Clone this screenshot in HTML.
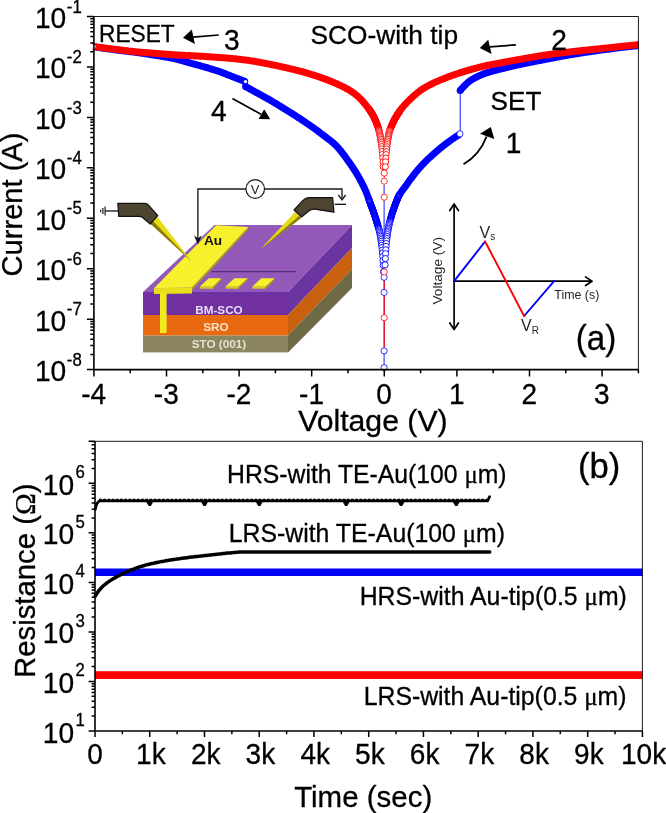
<!DOCTYPE html>
<html lang="en"><head><meta charset="utf-8"><title>I-V characteristics and retention</title>
<style>html,body{margin:0;padding:0;background:#fff}svg{display:block}</style></head>
<body>
<svg width="666" height="813" viewBox="0 0 666 813" font-family='"Liberation Sans", sans-serif'>
<rect width="666" height="813" fill="#fff"/>
<clipPath id="clipA"><rect x="89.9" y="16.5" width="548.9" height="357.1"/></clipPath>
<g id="curvesA" clip-path="url(#clipA)">
<line x1="384.1" y1="185" x2="384.1" y2="369.6" stroke="#0000ff" stroke-width="0.9"/>
<line x1="384.3" y1="272" x2="384.3" y2="347" stroke="#ff0000" stroke-width="1"/>
<line x1="384.3" y1="150" x2="384.3" y2="184" stroke="#ff0000" stroke-width="0.9"/>
<polyline points="93.9,46.8 94.6,46.9 95.4,47.0 96.1,47.1 96.8,47.2 97.5,47.3 98.3,47.4 99.0,47.5 99.7,47.7 100.4,47.8 101.2,47.9 101.9,48.0 102.6,48.1 103.3,48.2 104.1,48.3 104.8,48.4 105.5,48.5 106.2,48.6 107.0,48.7 107.7,48.8 108.4,48.9 109.1,49.0 109.9,49.1 110.6,49.2 111.3,49.3 112.0,49.4 112.8,49.5 113.5,49.6 114.2,49.7 115.0,49.8 115.7,49.9 116.4,50.0 117.1,50.1 117.9,50.2 118.6,50.3 119.3,50.3 120.0,50.4 120.8,50.5 121.5,50.6 122.2,50.7 122.9,50.8 123.7,50.9 124.4,51.0 125.1,51.0 125.8,51.1 126.6,51.2 127.3,51.3 128.0,51.4 128.7,51.5 129.5,51.6 130.2,51.7 130.9,51.7 131.7,51.8 132.4,51.9 133.1,52.0 133.8,52.1 134.6,52.2 135.3,52.3 136.0,52.4 136.7,52.5 137.5,52.6 138.2,52.7 138.9,52.8 139.6,52.9 140.4,53.0 141.1,53.1 141.8,53.2 142.5,53.3 143.3,53.4 144.0,53.5 144.7,53.7 145.4,53.8 146.2,53.9 146.9,54.0 147.6,54.1 148.3,54.2 149.1,54.3 149.8,54.4 150.5,54.6 151.3,54.7 152.0,54.8 152.7,54.9 153.4,55.0 154.2,55.1 154.9,55.3 155.6,55.4 156.3,55.5 157.1,55.6 157.8,55.7 158.5,55.8 159.2,56.0 160.0,56.1 160.7,56.2 161.4,56.3 162.1,56.4 162.9,56.6 163.6,56.7 164.3,56.8 165.0,56.9 165.8,57.0 166.5,57.2 167.2,57.3 168.0,57.4 168.7,57.5 169.4,57.7 170.1,57.8 170.9,58.0 171.6,58.1 172.3,58.2 173.0,58.4 173.8,58.5 174.5,58.7 175.2,58.8 175.9,59.0 176.7,59.2 177.4,59.4 178.1,59.6 178.8,59.7 179.6,59.9 180.3,60.2 181.0,60.4 181.7,60.6 182.5,60.8 183.2,61.0 183.9,61.2 184.6,61.4 185.4,61.7 186.1,61.9 186.8,62.1 187.6,62.3 188.3,62.5 189.0,62.7 189.7,62.9 190.5,63.1 191.2,63.3 191.9,63.5 192.6,63.7 193.4,63.9 194.1,64.1 194.8,64.3 195.5,64.5 196.3,64.7 197.0,64.9 197.7,65.0 198.4,65.2 199.2,65.4 199.9,65.6 200.6,65.9 201.3,66.1 202.1,66.3 202.8,66.5 203.5,66.7 204.3,66.9 205.0,67.1 205.7,67.3 206.4,67.5 207.2,67.7 207.9,68.0 208.6,68.2 209.3,68.4 210.1,68.6 210.8,68.8 211.5,69.1 212.2,69.3 213.0,69.5 213.7,69.7 214.4,70.0 215.1,70.2 215.9,70.4 216.6,70.7 217.3,70.9 218.0,71.1 218.8,71.4 219.5,71.6 220.2,71.9 220.9,72.1 221.7,72.4 222.4,72.7 223.1,73.0 223.9,73.2 224.6,73.5 225.3,73.8 226.0,74.1 226.8,74.4 227.5,74.7 228.2,75.0 228.9,75.2 229.7,75.5 230.4,75.8 231.1,76.1 231.8,76.4 232.6,76.7 233.3,76.9 234.0,77.2 234.7,77.5 235.5,77.8 236.2,78.1 236.9,78.3 237.6,78.6 238.4,78.9 239.1,79.2 239.8,79.5 240.6,79.7 241.3,80.0 242.0,80.3 242.7,80.6 243.5,80.9 244.2,81.1" fill="none" stroke="#0000ff" stroke-width="7.0" stroke-linejoin="round" stroke-linecap="butt"/>
<polyline points="244.9,86.1 245.6,86.5 246.4,87.0 247.1,87.4 247.8,87.8 248.5,88.2 249.3,88.6 250.0,89.0 250.7,89.4 251.4,89.8 252.2,90.2 252.9,90.6 253.6,91.0 254.3,91.4 255.1,91.8 255.8,92.2 256.5,92.6 257.2,93.0 258.0,93.4 258.7,93.8 259.4,94.2 260.2,94.6 260.9,95.0 261.6,95.4 262.3,95.8 263.1,96.2 263.8,96.6 264.5,97.0 265.2,97.4 266.0,97.8 266.7,98.2 267.4,98.6 268.1,99.0 268.9,99.4 269.6,99.8 270.3,100.3 271.0,100.7 271.8,101.1 272.5,101.5 273.2,102.0 273.9,102.4 274.7,102.8 275.4,103.3 276.1,103.7 276.9,104.1 277.6,104.6 278.3,105.0 279.0,105.5 279.8,105.9 280.5,106.4 281.2,106.8 281.9,107.3 282.7,107.7 283.4,108.2 284.1,108.6 284.8,109.1 285.6,109.5 286.3,110.0 287.0,110.4 287.7,110.9 288.5,111.3 289.2,111.8 289.9,112.2 290.6,112.7 291.4,113.1 292.1,113.6 292.8,114.0 293.6,114.5 294.3,115.0 295.0,115.4 295.7,115.9 296.5,116.4 297.2,116.8 297.9,117.3 298.6,117.8 299.4,118.2 300.1,118.7 300.8,119.2 301.5,119.7 302.3,120.2 303.0,120.6 303.7,121.1 304.4,121.6 305.2,122.1 305.9,122.6 306.6,123.1 307.3,123.6 308.1,124.1 308.8,124.6 309.5,125.1 310.2,125.6 311.0,126.1 311.7,126.6 312.4,127.1 313.2,127.6 313.9,128.1 314.6,128.6 315.3,129.2 316.1,129.7 316.8,130.2 317.5,130.8 318.2,131.3 319.0,131.9 319.7,132.5 320.4,133.0 321.1,133.6 321.9,134.1 322.6,134.7 323.3,135.2 324.0,135.8 324.8,136.3 325.5,136.9 326.2,137.4 326.9,138.0 327.7,138.5 328.4,139.1 329.1,139.6 329.9,140.2 330.6,140.7 331.3,141.3 332.0,141.9 332.8,142.5 333.5,143.2 334.2,143.8 334.9,144.5 335.7,145.2 336.4,146.0 337.1,146.7 337.8,147.5 338.6,148.3 339.3,149.2 340.0,150.0 340.7,150.9 341.5,151.8 342.2,152.8 342.9,153.7 343.6,154.7 344.4,155.6 345.1,156.6 345.8,157.6 346.5,158.6 347.3,159.7 348.0,160.7 348.7,161.7 349.5,162.7 350.2,163.8 350.9,164.8 351.6,165.8 352.4,166.9 353.1,168.0 353.8,169.1 354.5,170.2 355.3,171.4 356.0,172.5 356.7,173.7 357.4,174.9 358.2,176.1 358.9,177.4 359.6,178.7 360.3,180.0 361.1,181.4 361.8,182.8 362.5,184.2 363.2,185.7 364.0,187.2 364.7,188.8 365.4,190.4 366.2,192.2 366.9,194.0 367.6,195.9 368.3,197.9 369.1,199.9" fill="none" stroke="#0000ff" stroke-width="7.0" stroke-linejoin="round" stroke-linecap="butt"/>
<g fill="none" stroke="#0000ff" stroke-width="0.9"><circle cx="369.05" cy="199.9" r="3.1"/><circle cx="369.31" cy="200.6" r="3.1"/><circle cx="369.56" cy="201.3" r="3.1"/><circle cx="369.82" cy="202.0" r="3.1"/><circle cx="370.07" cy="202.7" r="3.1"/><circle cx="370.32" cy="203.4" r="3.1"/><circle cx="370.58" cy="204.1" r="3.1"/><circle cx="370.83" cy="204.8" r="3.1"/><circle cx="371.09" cy="205.5" r="3.1"/><circle cx="371.34" cy="206.2" r="3.1"/><circle cx="371.60" cy="206.8" r="3.1"/><circle cx="371.85" cy="207.5" r="3.1"/><circle cx="372.10" cy="208.1" r="3.1"/><circle cx="372.36" cy="208.8" r="3.1"/><circle cx="372.61" cy="209.5" r="3.1"/><circle cx="372.87" cy="210.2" r="3.1"/><circle cx="373.12" cy="210.9" r="3.1"/><circle cx="373.37" cy="211.6" r="3.1"/><circle cx="373.63" cy="212.4" r="3.1"/><circle cx="373.88" cy="213.1" r="3.1"/><circle cx="374.14" cy="213.8" r="3.1"/><circle cx="374.39" cy="214.6" r="3.1"/><circle cx="374.64" cy="215.4" r="3.1"/><circle cx="374.90" cy="216.1" r="3.1"/><circle cx="375.15" cy="216.9" r="3.1"/><circle cx="375.41" cy="217.7" r="3.1"/><circle cx="375.66" cy="218.5" r="3.1"/><circle cx="375.91" cy="219.3" r="3.1"/><circle cx="376.17" cy="220.2" r="3.1"/><circle cx="376.42" cy="221.0" r="3.1"/><circle cx="376.68" cy="221.8" r="3.1"/><circle cx="376.93" cy="222.6" r="3.1"/><circle cx="377.19" cy="223.5" r="3.1"/><circle cx="377.44" cy="224.3" r="3.1"/><circle cx="377.69" cy="225.1" r="3.1"/><circle cx="377.95" cy="226.0" r="3.1"/><circle cx="378.20" cy="226.8" r="3.1"/><circle cx="378.46" cy="227.6" r="3.1"/><circle cx="378.71" cy="228.4" r="3.1"/></g><g fill="#fff" stroke="#0000ff" stroke-width="0.9"><circle cx="378.96" cy="229.1" r="3.1"/><circle cx="379.22" cy="230.1" r="3.1"/><circle cx="379.47" cy="231.2" r="3.1"/><circle cx="379.73" cy="232.4" r="3.1"/><circle cx="379.98" cy="233.7" r="3.1"/><circle cx="380.23" cy="235.0" r="3.1"/><circle cx="380.49" cy="236.4" r="3.1"/><circle cx="380.74" cy="237.9" r="3.1"/><circle cx="381.00" cy="239.6" r="3.1"/><circle cx="381.25" cy="241.3" r="3.1"/><circle cx="381.50" cy="243.2" r="3.1"/><circle cx="381.76" cy="245.3" r="3.1"/><circle cx="382.01" cy="247.6" r="3.1"/><circle cx="382.27" cy="250.2" r="3.1"/><circle cx="382.52" cy="253.1" r="3.1"/><circle cx="382.78" cy="256.5" r="3.1"/><circle cx="383.03" cy="260.5" r="3.1"/><circle cx="383.28" cy="265.4" r="3.1"/><circle cx="383.54" cy="271.7" r="3.1"/></g>
<g fill="none" stroke="#0000ff" stroke-width="0.9"><circle cx="399.55" cy="194.6" r="3.1"/><circle cx="399.29" cy="195.1" r="3.1"/><circle cx="399.04" cy="195.5" r="3.1"/><circle cx="398.78" cy="196.0" r="3.1"/><circle cx="398.53" cy="196.6" r="3.1"/><circle cx="398.28" cy="197.1" r="3.1"/><circle cx="398.02" cy="197.6" r="3.1"/><circle cx="397.77" cy="198.2" r="3.1"/><circle cx="397.51" cy="198.8" r="3.1"/><circle cx="397.26" cy="199.4" r="3.1"/><circle cx="397.00" cy="200.0" r="3.1"/><circle cx="396.75" cy="200.6" r="3.1"/><circle cx="396.50" cy="201.3" r="3.1"/><circle cx="396.24" cy="201.9" r="3.1"/><circle cx="395.99" cy="202.6" r="3.1"/><circle cx="395.73" cy="203.2" r="3.1"/><circle cx="395.48" cy="203.9" r="3.1"/><circle cx="395.23" cy="204.6" r="3.1"/><circle cx="394.97" cy="205.3" r="3.1"/><circle cx="394.72" cy="206.0" r="3.1"/><circle cx="394.46" cy="206.7" r="3.1"/><circle cx="394.21" cy="207.5" r="3.1"/><circle cx="393.96" cy="208.2" r="3.1"/><circle cx="393.70" cy="208.9" r="3.1"/><circle cx="393.45" cy="209.6" r="3.1"/><circle cx="393.19" cy="210.3" r="3.1"/><circle cx="392.94" cy="211.1" r="3.1"/><circle cx="392.69" cy="211.8" r="3.1"/><circle cx="392.43" cy="212.6" r="3.1"/><circle cx="392.18" cy="213.4" r="3.1"/><circle cx="391.92" cy="214.2" r="3.1"/><circle cx="391.67" cy="215.0" r="3.1"/><circle cx="391.41" cy="215.9" r="3.1"/><circle cx="391.16" cy="216.8" r="3.1"/><circle cx="390.91" cy="217.6" r="3.1"/><circle cx="390.65" cy="218.5" r="3.1"/><circle cx="390.40" cy="219.5" r="3.1"/><circle cx="390.14" cy="220.4" r="3.1"/><circle cx="389.89" cy="221.4" r="3.1"/></g><g fill="#fff" stroke="#0000ff" stroke-width="0.9"><circle cx="389.64" cy="222.4" r="3.1"/><circle cx="389.38" cy="223.4" r="3.1"/><circle cx="389.13" cy="224.5" r="3.1"/><circle cx="388.87" cy="225.7" r="3.1"/><circle cx="388.62" cy="226.9" r="3.1"/><circle cx="388.37" cy="228.3" r="3.1"/><circle cx="388.11" cy="229.7" r="3.1"/><circle cx="387.86" cy="231.2" r="3.1"/><circle cx="387.60" cy="232.8" r="3.1"/><circle cx="387.35" cy="234.6" r="3.1"/><circle cx="387.10" cy="236.5" r="3.1"/><circle cx="386.84" cy="238.6" r="3.1"/><circle cx="386.59" cy="240.9" r="3.1"/><circle cx="386.33" cy="243.5" r="3.1"/><circle cx="386.08" cy="246.4" r="3.1"/><circle cx="385.82" cy="249.8" r="3.1"/><circle cx="385.57" cy="253.7" r="3.1"/><circle cx="385.32" cy="258.6" r="3.1"/><circle cx="385.06" cy="264.9" r="3.1"/></g>
<polyline points="399.5,194.6 400.3,193.4 401.0,192.3 401.7,191.3 402.4,190.3 403.2,189.4 403.9,188.5 404.6,187.5 405.4,186.4 406.1,185.4 406.8,184.4 407.5,183.4 408.3,182.3 409.0,181.3 409.7,180.3 410.4,179.3 411.2,178.4 411.9,177.4 412.6,176.4 413.3,175.5 414.1,174.5 414.8,173.6 415.5,172.7 416.2,171.8 417.0,170.9 417.7,170.1 418.4,169.2 419.1,168.4 419.9,167.5 420.6,166.7 421.3,165.9 422.1,165.1 422.8,164.3 423.5,163.6 424.2,162.8 425.0,162.1 425.7,161.4 426.4,160.6 427.1,159.9 427.9,159.2 428.6,158.6 429.3,157.9 430.0,157.2 430.8,156.6 431.5,155.9 432.2,155.2 432.9,154.6 433.7,153.9 434.4,153.3 435.1,152.7 435.8,152.0 436.6,151.4 437.3,150.8 438.0,150.1 438.8,149.5 439.5,148.9 440.2,148.3 440.9,147.7 441.7,147.1 442.4,146.5 443.1,146.0 443.8,145.4 444.6,144.8 445.3,144.3 446.0,143.7 446.7,143.2 447.5,142.7 448.2,142.1 448.9,141.6 449.6,141.1 450.4,140.5 451.1,140.0 451.8,139.5 452.5,139.0 453.3,138.5 454.0,138.0 454.7,137.5 455.4,137.0 456.2,136.5 456.9,136.0 457.6,135.5 458.4,135.1 459.1,134.6 459.8,134.1" fill="none" stroke="#0000ff" stroke-width="7.0" stroke-linejoin="round" stroke-linecap="butt"/>
<line x1="460.2" y1="90" x2="460.2" y2="134" stroke="#0000ff" stroke-width="0.9"/>
<circle cx="459.9" cy="133.8" r="3.1" fill="#fff" stroke="#0000ff" stroke-width="0.8"/>
<polyline points="460.2,90.2 460.9,89.6 461.6,88.8 462.3,88.0 463.1,87.2 463.8,86.4 464.5,85.7 465.2,85.0 466.0,84.3 466.7,83.6 467.4,82.9 468.2,82.3 468.9,81.6 469.6,81.1 470.3,80.6 471.1,80.1 471.8,79.6 472.5,79.2 473.2,78.8 474.0,78.4 474.7,78.0 475.4,77.6 476.1,77.2 476.9,76.9 477.6,76.5 478.3,76.2 479.0,75.8 479.8,75.5 480.5,75.2 481.2,74.9 481.9,74.6 482.7,74.3 483.4,74.0 484.1,73.7 484.9,73.5 485.6,73.2 486.3,73.0 487.0,72.7 487.8,72.5 488.5,72.3 489.2,72.1 489.9,71.8 490.7,71.6 491.4,71.4 492.1,71.2 492.8,71.0 493.6,70.9 494.3,70.7 495.0,70.5 495.7,70.3 496.5,70.1 497.2,69.9 497.9,69.7 498.6,69.5 499.4,69.4 500.1,69.2 500.8,69.0 501.5,68.8 502.3,68.6 503.0,68.4 503.7,68.3 504.5,68.1 505.2,67.9 505.9,67.7 506.6,67.5 507.4,67.4 508.1,67.2 508.8,67.0 509.5,66.9 510.3,66.7 511.0,66.5 511.7,66.4 512.4,66.2 513.2,66.0 513.9,65.9 514.6,65.7 515.3,65.5 516.1,65.4 516.8,65.2 517.5,65.0 518.2,64.9 519.0,64.7 519.7,64.6 520.4,64.4 521.2,64.2 521.9,64.1 522.6,63.9 523.3,63.8 524.1,63.6 524.8,63.5 525.5,63.3 526.2,63.2 527.0,63.0 527.7,62.9 528.4,62.7 529.1,62.6 529.9,62.4 530.6,62.3 531.3,62.1 532.0,62.0 532.8,61.8 533.5,61.7 534.2,61.6 534.9,61.4 535.7,61.3 536.4,61.1 537.1,61.0 537.8,60.9 538.6,60.7 539.3,60.6 540.0,60.5 540.8,60.3 541.5,60.2 542.2,60.0 542.9,59.9 543.7,59.8 544.4,59.6 545.1,59.5 545.8,59.3 546.6,59.2 547.3,59.1 548.0,58.9 548.7,58.8 549.5,58.6 550.2,58.5 550.9,58.3 551.6,58.2 552.4,58.1 553.1,57.9 553.8,57.8 554.5,57.6 555.3,57.5 556.0,57.4 556.7,57.2 557.5,57.1 558.2,56.9 558.9,56.8 559.6,56.7 560.4,56.5 561.1,56.4 561.8,56.3 562.5,56.1 563.3,56.0 564.0,55.9 564.7,55.8 565.4,55.6 566.2,55.5 566.9,55.4 567.6,55.2 568.3,55.1 569.1,55.0 569.8,54.9 570.5,54.7 571.2,54.6 572.0,54.5 572.7,54.4 573.4,54.3 574.1,54.1 574.9,54.0 575.6,53.9 576.3,53.8 577.1,53.7 577.8,53.6 578.5,53.4 579.2,53.3 580.0,53.2 580.7,53.1 581.4,53.0 582.1,52.9 582.9,52.8 583.6,52.7 584.3,52.5 585.0,52.4 585.8,52.3 586.5,52.2 587.2,52.1 587.9,52.0 588.7,51.9 589.4,51.8 590.1,51.7 590.8,51.6 591.6,51.5 592.3,51.4 593.0,51.3 593.8,51.2 594.5,51.1 595.2,51.0 595.9,50.8 596.7,50.7 597.4,50.6 598.1,50.5 598.8,50.4 599.6,50.3 600.3,50.2 601.0,50.1 601.7,50.0 602.5,49.9 603.2,49.8 603.9,49.7 604.6,49.6 605.4,49.6 606.1,49.5 606.8,49.4 607.5,49.3 608.3,49.2 609.0,49.1 609.7,49.0 610.4,48.9 611.2,48.8 611.9,48.7 612.6,48.6 613.4,48.5 614.1,48.4 614.8,48.3 615.5,48.2 616.3,48.1 617.0,48.0 617.7,47.9 618.4,47.8 619.2,47.7 619.9,47.6 620.6,47.5 621.3,47.5 622.1,47.4 622.8,47.3 623.5,47.2 624.2,47.1 625.0,47.0 625.7,46.9 626.4,46.9 627.1,46.8 627.9,46.7 628.6,46.6 629.3,46.5 630.1,46.5 630.8,46.4 631.5,46.3 632.2,46.2 633.0,46.1 633.7,46.1 634.4,46.0 635.1,45.9 635.9,45.9 636.6,45.8 637.3,45.7 638.0,45.6 638.8,45.6 639.5,45.6" fill="none" stroke="#0000ff" stroke-width="7.0" stroke-linejoin="round" stroke-linecap="butt"/>
<circle cx="244.6" cy="81.3" r="3.5" fill="#0000ff"/><circle cx="245.6" cy="86.6" r="3.5" fill="#0000ff"/><circle cx="245.5" cy="81.6" r="1.7" fill="#fff"/>
<circle cx="460.2" cy="90.6" r="3.5" fill="#0000ff"/>
<circle cx="384.1" cy="277.3" r="3.1" fill="#fff" stroke="#0000ff" stroke-width="0.8"/>
<circle cx="384.1" cy="292.4" r="3.1" fill="#fff" stroke="#0000ff" stroke-width="0.8"/>
<circle cx="384.1" cy="350.9" r="3.1" fill="#fff" stroke="#0000ff" stroke-width="0.8"/>
<circle cx="384.1" cy="367.7" r="3.1" fill="#fff" stroke="#0000ff" stroke-width="0.8"/>
<polyline points="92.4,46.6 93.2,46.6 93.9,46.6 94.6,46.7 95.4,46.8 96.1,46.9 96.8,47.0 97.5,47.1 98.3,47.2 99.0,47.3 99.7,47.4 100.4,47.4 101.2,47.5 101.9,47.6 102.6,47.7 103.3,47.8 104.1,47.9 104.8,48.0 105.5,48.1 106.2,48.2 107.0,48.3 107.7,48.4 108.4,48.5 109.1,48.6 109.9,48.7 110.6,48.8 111.3,48.8 112.0,48.9 112.8,49.0 113.5,49.1 114.2,49.2 115.0,49.3 115.7,49.4 116.4,49.5 117.1,49.6 117.9,49.7 118.6,49.7 119.3,49.8 120.0,49.9 120.8,50.0 121.5,50.1 122.2,50.2 122.9,50.3 123.7,50.4 124.4,50.5 125.1,50.6 125.8,50.7 126.6,50.8 127.3,50.8 128.0,50.9 128.7,51.0 129.5,51.1 130.2,51.2 130.9,51.3 131.7,51.3 132.4,51.4 133.1,51.5 133.8,51.6 134.6,51.7 135.3,51.7 136.0,51.8 136.7,51.9 137.5,51.9 138.2,52.0 138.9,52.1 139.6,52.1 140.4,52.2 141.1,52.3 141.8,52.3 142.5,52.4 143.3,52.4 144.0,52.5 144.7,52.6 145.4,52.6 146.2,52.7 146.9,52.7 147.6,52.8 148.3,52.8 149.1,52.9 149.8,53.0 150.5,53.0 151.3,53.1 152.0,53.1 152.7,53.2 153.4,53.2 154.2,53.3 154.9,53.3 155.6,53.4 156.3,53.4 157.1,53.5 157.8,53.6 158.5,53.6 159.2,53.7 160.0,53.7 160.7,53.8 161.4,53.8 162.1,53.9 162.9,53.9 163.6,54.0 164.3,54.1 165.0,54.1 165.8,54.2 166.5,54.2 167.2,54.3 168.0,54.3 168.7,54.4 169.4,54.4 170.1,54.5 170.9,54.5 171.6,54.6 172.3,54.6 173.0,54.7 173.8,54.7 174.5,54.8 175.2,54.8 175.9,54.9 176.7,54.9 177.4,55.0 178.1,55.0 178.8,55.0 179.6,55.1 180.3,55.1 181.0,55.2 181.7,55.2 182.5,55.3 183.2,55.3 183.9,55.3 184.6,55.4 185.4,55.4 186.1,55.4 186.8,55.5 187.6,55.5 188.3,55.5 189.0,55.6 189.7,55.6 190.5,55.6 191.2,55.7 191.9,55.7 192.6,55.8 193.4,55.8 194.1,55.8 194.8,55.9 195.5,55.9 196.3,55.9 197.0,56.0 197.7,56.0 198.4,56.1 199.2,56.1 199.9,56.2 200.6,56.2 201.3,56.2 202.1,56.3 202.8,56.3 203.5,56.4 204.3,56.4 205.0,56.5 205.7,56.5 206.4,56.6 207.2,56.6 207.9,56.7 208.6,56.7 209.3,56.8 210.1,56.8 210.8,56.9 211.5,56.9 212.2,57.0 213.0,57.1 213.7,57.1 214.4,57.2 215.1,57.2 215.9,57.3 216.6,57.3 217.3,57.4 218.0,57.4 218.8,57.5 219.5,57.5 220.2,57.6 220.9,57.6 221.7,57.7 222.4,57.7 223.1,57.8 223.9,57.8 224.6,57.9 225.3,57.9 226.0,58.0 226.8,58.1 227.5,58.1 228.2,58.2 228.9,58.2 229.7,58.3 230.4,58.4 231.1,58.4 231.8,58.5 232.6,58.6 233.3,58.6 234.0,58.7 234.7,58.8 235.5,58.8 236.2,58.9 236.9,59.0 237.6,59.1 238.4,59.2 239.1,59.2 239.8,59.3 240.6,59.4 241.3,59.5 242.0,59.6 242.7,59.7 243.5,59.8 244.2,59.9 244.9,60.0 245.6,60.0 246.4,60.1 247.1,60.2 247.8,60.3 248.5,60.4 249.3,60.5 250.0,60.7 250.7,60.8 251.4,60.9 252.2,61.0 252.9,61.1 253.6,61.2 254.3,61.3 255.1,61.4 255.8,61.6 256.5,61.7 257.2,61.8 258.0,62.0 258.7,62.1 259.4,62.2 260.2,62.4 260.9,62.5 261.6,62.6 262.3,62.8 263.1,62.9 263.8,63.1 264.5,63.2 265.2,63.3 266.0,63.5 266.7,63.6 267.4,63.8 268.1,63.9 268.9,64.1 269.6,64.2 270.3,64.4 271.0,64.5 271.8,64.7 272.5,64.8 273.2,65.0 273.9,65.1 274.7,65.3 275.4,65.4 276.1,65.6 276.9,65.7 277.6,65.9 278.3,66.0 279.0,66.2 279.8,66.4 280.5,66.5 281.2,66.7 281.9,66.8 282.7,67.0 283.4,67.2 284.1,67.3 284.8,67.5 285.6,67.7 286.3,67.8 287.0,68.0 287.7,68.2 288.5,68.3 289.2,68.5 289.9,68.7 290.6,68.9 291.4,69.0 292.1,69.2 292.8,69.4 293.5,69.5 294.3,69.7 295.0,69.9 295.7,70.1 296.5,70.3 297.2,70.4 297.9,70.6 298.6,70.8 299.4,71.0 300.1,71.2 300.8,71.4 301.5,71.6 302.3,71.7 303.0,71.9 303.7,72.1 304.4,72.3 305.2,72.5 305.9,72.8 306.6,73.0 307.3,73.2 308.1,73.4 308.8,73.6 309.5,73.8 310.2,74.0 311.0,74.3 311.7,74.5 312.4,74.7 313.2,74.9 313.9,75.2 314.6,75.4 315.3,75.7 316.1,75.9 316.8,76.1 317.5,76.4 318.2,76.6 319.0,76.9 319.7,77.1 320.4,77.4 321.1,77.6 321.9,77.9 322.6,78.2 323.3,78.4 324.0,78.7 324.8,78.9 325.5,79.2 326.2,79.5 326.9,79.8 327.7,80.0 328.4,80.3 329.1,80.6 329.8,80.9 330.6,81.2 331.3,81.5 332.0,81.8 332.8,82.1 333.5,82.4 334.2,82.7 334.9,83.0 335.7,83.3 336.4,83.6 337.1,84.0 337.8,84.3 338.6,84.6 339.3,84.9 340.0,85.3 340.7,85.6 341.5,86.0 342.2,86.3 342.9,86.7 343.6,87.1 344.4,87.4 345.1,87.8 345.8,88.2 346.5,88.6 347.3,89.0 348.0,89.4 348.7,89.8 349.5,90.3 350.2,90.7 350.9,91.2 351.6,91.6 352.4,92.1 353.1,92.6 353.8,93.1 354.5,93.7 355.3,94.2 356.0,94.8 356.7,95.4 357.4,96.0 358.2,96.7 358.9,97.4 359.6,98.1 360.3,98.8 361.1,99.5 361.8,100.3 362.5,101.1 363.2,101.9 364.0,102.8 364.7,103.6 365.4,104.5 366.1,105.4 366.9,106.3 367.6,107.2 368.3,108.2 369.1,109.2" fill="none" stroke="#ff0000" stroke-width="7.0" stroke-linejoin="round" stroke-linecap="butt"/>
<g fill="none" stroke="#ff0000" stroke-width="0.9"><circle cx="369.05" cy="109.2" r="3.1"/><circle cx="369.31" cy="109.5" r="3.1"/><circle cx="369.56" cy="109.9" r="3.1"/><circle cx="369.82" cy="110.2" r="3.1"/><circle cx="370.07" cy="110.6" r="3.1"/><circle cx="370.32" cy="111.0" r="3.1"/><circle cx="370.58" cy="111.4" r="3.1"/><circle cx="370.83" cy="111.8" r="3.1"/><circle cx="371.09" cy="112.2" r="3.1"/><circle cx="371.34" cy="112.6" r="3.1"/><circle cx="371.60" cy="113.0" r="3.1"/><circle cx="371.85" cy="113.4" r="3.1"/><circle cx="372.10" cy="113.8" r="3.1"/><circle cx="372.36" cy="114.2" r="3.1"/><circle cx="372.61" cy="114.7" r="3.1"/><circle cx="372.87" cy="115.1" r="3.1"/><circle cx="373.12" cy="115.6" r="3.1"/><circle cx="373.37" cy="116.1" r="3.1"/><circle cx="373.63" cy="116.6" r="3.1"/><circle cx="373.88" cy="117.0" r="3.1"/><circle cx="374.14" cy="117.5" r="3.1"/><circle cx="374.39" cy="118.1" r="3.1"/><circle cx="374.64" cy="118.6" r="3.1"/><circle cx="374.90" cy="119.1" r="3.1"/><circle cx="375.15" cy="119.7" r="3.1"/><circle cx="375.41" cy="120.3" r="3.1"/><circle cx="375.66" cy="120.9" r="3.1"/><circle cx="375.91" cy="121.5" r="3.1"/><circle cx="376.17" cy="122.1" r="3.1"/><circle cx="376.42" cy="122.7" r="3.1"/><circle cx="376.68" cy="123.4" r="3.1"/><circle cx="376.93" cy="124.0" r="3.1"/><circle cx="377.19" cy="124.7" r="3.1"/><circle cx="377.44" cy="125.5" r="3.1"/><circle cx="377.69" cy="126.2" r="3.1"/><circle cx="377.95" cy="127.0" r="3.1"/><circle cx="378.20" cy="127.8" r="3.1"/><circle cx="378.46" cy="128.6" r="3.1"/><circle cx="378.71" cy="129.5" r="3.1"/></g><g fill="#fff" stroke="#ff0000" stroke-width="0.9"><circle cx="378.96" cy="130.4" r="3.1"/><circle cx="379.22" cy="131.4" r="3.1"/><circle cx="379.47" cy="132.5" r="3.1"/><circle cx="379.73" cy="133.7" r="3.1"/><circle cx="379.98" cy="135.0" r="3.1"/><circle cx="380.23" cy="136.3" r="3.1"/><circle cx="380.49" cy="137.7" r="3.1"/><circle cx="380.74" cy="139.2" r="3.1"/><circle cx="381.00" cy="140.9" r="3.1"/><circle cx="381.25" cy="142.6" r="3.1"/><circle cx="381.50" cy="144.5" r="3.1"/><circle cx="381.76" cy="146.6" r="3.1"/><circle cx="382.01" cy="148.9" r="3.1"/><circle cx="382.27" cy="151.5" r="3.1"/><circle cx="382.52" cy="154.4" r="3.1"/><circle cx="382.78" cy="157.8" r="3.1"/><circle cx="383.03" cy="161.8" r="3.1"/><circle cx="383.28" cy="166.7" r="3.1"/></g>
<g fill="none" stroke="#ff0000" stroke-width="0.9"><circle cx="399.55" cy="111.4" r="3.1"/><circle cx="399.29" cy="111.8" r="3.1"/><circle cx="399.04" cy="112.1" r="3.1"/><circle cx="398.78" cy="112.5" r="3.1"/><circle cx="398.53" cy="112.9" r="3.1"/><circle cx="398.28" cy="113.3" r="3.1"/><circle cx="398.02" cy="113.7" r="3.1"/><circle cx="397.77" cy="114.0" r="3.1"/><circle cx="397.51" cy="114.4" r="3.1"/><circle cx="397.26" cy="114.9" r="3.1"/><circle cx="397.00" cy="115.3" r="3.1"/><circle cx="396.75" cy="115.7" r="3.1"/><circle cx="396.50" cy="116.1" r="3.1"/><circle cx="396.24" cy="116.5" r="3.1"/><circle cx="395.99" cy="117.0" r="3.1"/><circle cx="395.73" cy="117.4" r="3.1"/><circle cx="395.48" cy="117.9" r="3.1"/><circle cx="395.23" cy="118.3" r="3.1"/><circle cx="394.97" cy="118.8" r="3.1"/><circle cx="394.72" cy="119.2" r="3.1"/><circle cx="394.46" cy="119.7" r="3.1"/><circle cx="394.21" cy="120.2" r="3.1"/><circle cx="393.96" cy="120.7" r="3.1"/><circle cx="393.70" cy="121.2" r="3.1"/><circle cx="393.45" cy="121.7" r="3.1"/><circle cx="393.19" cy="122.2" r="3.1"/><circle cx="392.94" cy="122.8" r="3.1"/><circle cx="392.69" cy="123.3" r="3.1"/><circle cx="392.43" cy="123.8" r="3.1"/><circle cx="392.18" cy="124.4" r="3.1"/><circle cx="391.92" cy="125.0" r="3.1"/><circle cx="391.67" cy="125.6" r="3.1"/><circle cx="391.41" cy="126.2" r="3.1"/><circle cx="391.16" cy="126.8" r="3.1"/><circle cx="390.91" cy="127.4" r="3.1"/><circle cx="390.65" cy="128.1" r="3.1"/><circle cx="390.40" cy="128.7" r="3.1"/><circle cx="390.14" cy="129.4" r="3.1"/><circle cx="389.89" cy="130.1" r="3.1"/></g><g fill="#fff" stroke="#ff0000" stroke-width="0.9"><circle cx="389.64" cy="130.8" r="3.1"/><circle cx="389.38" cy="131.6" r="3.1"/><circle cx="389.13" cy="132.7" r="3.1"/><circle cx="388.87" cy="133.9" r="3.1"/><circle cx="388.62" cy="135.1" r="3.1"/><circle cx="388.37" cy="136.5" r="3.1"/><circle cx="388.11" cy="137.9" r="3.1"/><circle cx="387.86" cy="139.4" r="3.1"/><circle cx="387.60" cy="141.0" r="3.1"/><circle cx="387.35" cy="142.8" r="3.1"/><circle cx="387.10" cy="144.7" r="3.1"/><circle cx="386.84" cy="146.8" r="3.1"/><circle cx="386.59" cy="149.1" r="3.1"/><circle cx="386.33" cy="151.7" r="3.1"/><circle cx="386.08" cy="154.6" r="3.1"/><circle cx="385.82" cy="158.0" r="3.1"/><circle cx="385.57" cy="161.9" r="3.1"/><circle cx="385.32" cy="166.8" r="3.1"/></g>
<polyline points="399.5,111.4 400.3,110.4 401.0,109.4 401.7,108.5 402.4,107.5 403.2,106.7 403.9,105.8 404.6,105.0 405.4,104.2 406.1,103.4 406.8,102.6 407.5,101.9 408.3,101.1 409.0,100.4 409.7,99.7 410.4,99.0 411.2,98.3 411.9,97.6 412.6,97.0 413.3,96.3 414.1,95.6 414.8,95.0 415.5,94.4 416.2,93.8 417.0,93.2 417.7,92.6 418.4,92.0 419.1,91.5 419.9,90.9 420.6,90.4 421.3,89.9 422.1,89.4 422.8,88.9 423.5,88.4 424.2,88.0 425.0,87.5 425.7,87.1 426.4,86.7 427.1,86.3 427.9,85.9 428.6,85.5 429.3,85.1 430.0,84.7 430.8,84.4 431.5,84.0 432.2,83.7 432.9,83.3 433.7,83.0 434.4,82.6 435.1,82.3 435.8,82.0 436.6,81.7 437.3,81.4 438.0,81.0 438.8,80.7 439.5,80.4 440.2,80.1 440.9,79.8 441.7,79.5 442.4,79.2 443.1,78.9 443.8,78.6 444.6,78.3 445.3,78.1 446.0,77.8 446.7,77.5 447.5,77.2 448.2,76.9 448.9,76.7 449.6,76.4 450.4,76.1 451.1,75.9 451.8,75.6 452.5,75.4 453.3,75.1 454.0,74.8 454.7,74.6 455.4,74.3 456.2,74.1 456.9,73.9 457.6,73.6 458.4,73.4 459.1,73.1 459.8,72.9 460.5,72.7 461.3,72.4 462.0,72.2 462.7,72.0 463.4,71.7 464.2,71.5 464.9,71.3 465.6,71.1 466.3,70.9 467.1,70.6 467.8,70.4 468.5,70.2 469.2,70.0 470.0,69.8 470.7,69.6 471.4,69.4 472.1,69.2 472.9,69.0 473.6,68.8 474.3,68.6 475.1,68.4 475.8,68.2 476.5,68.0 477.2,67.8 478.0,67.6 478.7,67.4 479.4,67.2 480.1,67.1 480.9,66.9 481.6,66.7 482.3,66.5 483.0,66.3 483.8,66.2 484.5,66.0 485.2,65.9 485.9,65.7 486.7,65.5 487.4,65.4 488.1,65.2 488.8,65.1 489.6,65.0 490.3,64.8 491.0,64.7 491.7,64.5 492.5,64.4 493.2,64.3 493.9,64.1 494.7,64.0 495.4,63.9 496.1,63.7 496.8,63.6 497.6,63.5 498.3,63.3 499.0,63.2 499.7,63.1 500.5,62.9 501.2,62.8 501.9,62.6 502.6,62.5 503.4,62.4 504.1,62.2 504.8,62.1 505.5,61.9 506.3,61.8 507.0,61.7 507.7,61.5 508.4,61.4 509.2,61.3 509.9,61.1 510.6,61.0 511.4,60.9 512.1,60.7 512.8,60.6 513.5,60.5 514.3,60.3 515.0,60.2 515.7,60.1 516.4,59.9 517.2,59.8 517.9,59.7 518.6,59.6 519.3,59.4 520.1,59.3 520.8,59.2 521.5,59.1 522.2,58.9 523.0,58.8 523.7,58.7 524.4,58.6 525.1,58.4 525.9,58.3 526.6,58.2 527.3,58.1 528.0,57.9 528.8,57.8 529.5,57.7 530.2,57.6 531.0,57.4 531.7,57.3 532.4,57.2 533.1,57.1 533.9,56.9 534.6,56.8 535.3,56.7 536.0,56.6 536.8,56.4 537.5,56.3 538.2,56.2 538.9,56.1 539.7,55.9 540.4,55.8 541.1,55.7 541.8,55.6 542.6,55.5 543.3,55.4 544.0,55.2 544.7,55.1 545.5,55.0 546.2,54.9 546.9,54.8 547.7,54.7 548.4,54.6 549.1,54.5 549.8,54.4 550.6,54.3 551.3,54.2 552.0,54.1 552.7,54.0 553.5,53.9 554.2,53.8 554.9,53.7 555.6,53.7 556.4,53.6 557.1,53.5 557.8,53.4 558.5,53.3 559.3,53.2 560.0,53.1 560.7,53.0 561.4,52.9 562.2,52.8 562.9,52.7 563.6,52.6 564.3,52.6 565.1,52.5 565.8,52.4 566.5,52.3 567.3,52.2 568.0,52.1 568.7,52.0 569.4,51.9 570.2,51.9 570.9,51.8 571.6,51.7 572.3,51.6 573.1,51.5 573.8,51.4 574.5,51.4 575.2,51.3 576.0,51.2 576.7,51.1 577.4,51.0 578.1,51.0 578.9,50.9 579.6,50.8 580.3,50.7 581.0,50.6 581.8,50.6 582.5,50.5 583.2,50.4 584.0,50.3 584.7,50.3 585.4,50.2 586.1,50.1 586.9,50.0 587.6,50.0 588.3,49.9 589.0,49.8 589.8,49.7 590.5,49.7 591.2,49.6 591.9,49.5 592.7,49.4 593.4,49.4 594.1,49.3 594.8,49.2 595.6,49.1 596.3,49.1 597.0,49.0 597.7,48.9 598.5,48.9 599.2,48.8 599.9,48.7 600.6,48.6 601.4,48.6 602.1,48.5 602.8,48.4 603.6,48.3 604.3,48.3 605.0,48.2 605.7,48.1 606.5,48.0 607.2,48.0 607.9,47.9 608.6,47.8 609.4,47.7 610.1,47.6 610.8,47.6 611.5,47.5 612.3,47.4 613.0,47.3 613.7,47.2 614.4,47.2 615.2,47.1 615.9,47.0 616.6,46.9 617.3,46.8 618.1,46.8 618.8,46.7 619.5,46.6 620.3,46.5 621.0,46.4 621.7,46.4 622.4,46.3 623.2,46.2 623.9,46.1 624.6,46.0 625.3,46.0 626.1,45.9 626.8,45.8 627.5,45.7 628.2,45.7 629.0,45.6 629.7,45.5 630.4,45.5 631.1,45.4 631.9,45.3 632.6,45.2 633.3,45.2 634.0,45.1 634.8,45.0 635.5,45.0 636.2,44.9 636.9,44.8 637.7,44.8 638.4,44.7 639.1,44.7" fill="none" stroke="#ff0000" stroke-width="7.0" stroke-linejoin="round" stroke-linecap="butt"/>
<circle cx="384.2" cy="173.1" r="3.1" fill="#fff" stroke="#ff0000" stroke-width="0.8"/>
<circle cx="384.2" cy="181.2" r="3.1" fill="#fff" stroke="#ff0000" stroke-width="0.8"/>
<circle cx="384.2" cy="197.2" r="3.1" fill="#fff" stroke="#ff0000" stroke-width="0.8"/>
<circle cx="384.2" cy="271.9" r="3.1" fill="#fff" stroke="#ff0000" stroke-width="0.8"/>
<circle cx="384.2" cy="317.7" r="3.1" fill="#fff" stroke="#ff0000" stroke-width="0.8"/>
<circle cx="93.3" cy="46.6" r="2.3" fill="#fff"/>
</g>
<g id="axesA" stroke="#000" fill="none">
<path d="M93.9 16.5 H638.4 V369.6" stroke-width="0.9"/>
<path d="M93.9 16.2 V369.6 H638.4" stroke-width="1.6"/>
<path d="M86.9 16.50H93.9M90.30000000000001 51.76H93.9M90.30000000000001 42.88H93.9M90.30000000000001 36.57H93.9M90.30000000000001 31.68H93.9M90.30000000000001 27.69H93.9M90.30000000000001 24.31H93.9M90.30000000000001 21.39H93.9M90.30000000000001 18.81H93.9M86.9 66.94H93.9M90.30000000000001 102.20H93.9M90.30000000000001 93.32H93.9M90.30000000000001 87.02H93.9M90.30000000000001 82.13H93.9M90.30000000000001 78.13H93.9M90.30000000000001 74.76H93.9M90.30000000000001 71.83H93.9M90.30000000000001 69.25H93.9M86.9 117.39H93.9M90.30000000000001 152.64H93.9M90.30000000000001 143.76H93.9M90.30000000000001 137.46H93.9M90.30000000000001 132.57H93.9M90.30000000000001 128.58H93.9M90.30000000000001 125.20H93.9M90.30000000000001 122.27H93.9M90.30000000000001 119.69H93.9M86.9 167.83H93.9M90.30000000000001 203.09H93.9M90.30000000000001 194.20H93.9M90.30000000000001 187.90H93.9M90.30000000000001 183.01H93.9M90.30000000000001 179.02H93.9M90.30000000000001 175.64H93.9M90.30000000000001 172.72H93.9M90.30000000000001 170.14H93.9M86.9 218.27H93.9M90.30000000000001 253.53H93.9M90.30000000000001 244.65H93.9M90.30000000000001 238.34H93.9M90.30000000000001 233.46H93.9M90.30000000000001 229.46H93.9M90.30000000000001 226.09H93.9M90.30000000000001 223.16H93.9M90.30000000000001 220.58H93.9M86.9 268.71H93.9M90.30000000000001 303.97H93.9M90.30000000000001 295.09H93.9M90.30000000000001 288.79H93.9M90.30000000000001 283.90H93.9M90.30000000000001 279.90H93.9M90.30000000000001 276.53H93.9M90.30000000000001 273.60H93.9M90.30000000000001 271.02H93.9M86.9 319.16H93.9M90.30000000000001 354.42H93.9M90.30000000000001 345.53H93.9M90.30000000000001 339.23H93.9M90.30000000000001 334.34H93.9M90.30000000000001 330.35H93.9M90.30000000000001 326.97H93.9M90.30000000000001 324.05H93.9M90.30000000000001 321.47H93.9M86.9 369.60H93.9" stroke-width="1.5"/>
<path d="M93.90 369.6v7M130.20 369.6v3.6M166.50 369.6v7M202.80 369.6v3.6M239.10 369.6v7M275.40 369.6v3.6M311.70 369.6v7M348.00 369.6v3.6M384.30 369.6v7M420.60 369.6v3.6M456.90 369.6v7M493.20 369.6v3.6M529.50 369.6v7M565.80 369.6v3.6M602.10 369.6v7M638.40 369.6v3.6" stroke-width="1.5"/>
</g>
<g id="labelsA" fill="#000" font-size="28" stroke="#000" stroke-width="0.3">
<text transform="translate(66.3 28.0) scale(0.94 1)" text-anchor="end" font-size="30">10</text><text transform="translate(66.8 12.6) scale(0.96 1)" font-size="17.5">-1</text>
<text transform="translate(66.3 78.4) scale(0.94 1)" text-anchor="end" font-size="30">10</text><text transform="translate(66.8 63.0) scale(0.96 1)" font-size="17.5">-2</text>
<text transform="translate(66.3 128.9) scale(0.94 1)" text-anchor="end" font-size="30">10</text><text transform="translate(66.8 113.5) scale(0.96 1)" font-size="17.5">-3</text>
<text transform="translate(66.3 179.3) scale(0.94 1)" text-anchor="end" font-size="30">10</text><text transform="translate(66.8 163.9) scale(0.96 1)" font-size="17.5">-4</text>
<text transform="translate(66.3 229.8) scale(0.94 1)" text-anchor="end" font-size="30">10</text><text transform="translate(66.8 214.4) scale(0.96 1)" font-size="17.5">-5</text>
<text transform="translate(66.3 280.2) scale(0.94 1)" text-anchor="end" font-size="30">10</text><text transform="translate(66.8 264.8) scale(0.96 1)" font-size="17.5">-6</text>
<text transform="translate(66.3 330.7) scale(0.94 1)" text-anchor="end" font-size="30">10</text><text transform="translate(66.8 315.3) scale(0.96 1)" font-size="17.5">-7</text>
<text transform="translate(66.3 381.1) scale(0.94 1)" text-anchor="end" font-size="30">10</text><text transform="translate(66.8 365.7) scale(0.96 1)" font-size="17.5">-8</text>
<text transform="translate(93.7 403.5) scale(0.94 1)" text-anchor="middle" font-size="29.8">-4</text>
<text transform="translate(166.3 403.5) scale(0.94 1)" text-anchor="middle" font-size="29.8">-3</text>
<text transform="translate(238.9 403.5) scale(0.94 1)" text-anchor="middle" font-size="29.8">-2</text>
<text transform="translate(311.5 403.5) scale(0.94 1)" text-anchor="middle" font-size="29.8">-1</text>
<text transform="translate(384.1 403.5) scale(0.94 1)" text-anchor="middle" font-size="29.8">0</text>
<text transform="translate(456.7 403.5) scale(0.94 1)" text-anchor="middle" font-size="29.8">1</text>
<text transform="translate(529.3 403.5) scale(0.94 1)" text-anchor="middle" font-size="29.8">2</text>
<text transform="translate(601.9 403.5) scale(0.94 1)" text-anchor="middle" font-size="29.8">3</text>
<text transform="translate(298.19 430.5) scale(1.0139 1)" font-size="29.8" >Voltage (V)</text>
<text transform="translate(21.6 276.39) rotate(-90) scale(0.9759 1)" font-size="29.8" >Current (A)</text>
</g>
<g id="annA" fill="#000" stroke="#000" stroke-width="0.3">
<text transform="translate(99.04 42) scale(0.9790 1)" font-size="23.2" >RESET</text>
<text transform="translate(224.1 49.5) scale(0.97 1)" font-size="29">3</text>
<text transform="translate(210.9 120.6) scale(0.97 1)" font-size="29">4</text>
<text transform="translate(310.39 44.2) scale(1.0042 1)" font-size="26.2" >SCO-with tip</text>
<text transform="translate(551.3 50.2) scale(0.97 1)" font-size="29">2</text>
<text transform="translate(490.56 110.3) scale(0.9896 1)" font-size="26.4" >SET</text>
<text transform="translate(505.8 152.9) scale(0.97 1)" font-size="29">1</text>
<text transform="translate(575.65 350.2) scale(0.9621 1)" font-size="34.5" >(a)</text>
</g>
<defs><marker id="ah" viewBox="0 0 10 10" refX="9" refY="5" markerWidth="7" markerHeight="7" orient="auto-start-reverse" markerUnits="userSpaceOnUse"><path d="M0 0L10 5L0 10z" fill="#000"/></marker></defs>
<g stroke="#000" stroke-width="1.4" fill="none">
<path d="M218.8 35 L193 37.1" stroke-width="1.7"/><path d="M183 37.7 L191.8 29.6 L194.9 44.1z" fill="#000" stroke="none"/>
<path d="M232.4 98.6 L261 114.2" stroke-width="1.7"/><path d="M270.3 119.2 L258.6 119 L264.2 109.2z" fill="#000" stroke="none"/>
<path d="M515.9 44.8 L490 46.9" stroke-width="1.7"/><path d="M479.8 48.1 L488.2 39.7 L491.6 53.9z" fill="#000" stroke="none"/>
<path d="M463.5 164.3 Q479.5 155 486.6 136.5" stroke-width="1.9"/><path d="M490.8 127 L494.3 139 L480 133.8z" fill="#000" stroke="none"/>
</g>
<g id="wave" fill="none" stroke-linecap="round" stroke-linejoin="round">
<path d="M454.1 204.5 V329" stroke="#000" stroke-width="1.7"/>
<path d="M449.8 210.5 L454.1 204 L458.4 210.5 M449.8 323 L454.1 329.6 L458.4 323" stroke="#000" stroke-width="1.7"/>
<path d="M454.1 281.2 H591.5" stroke="#000" stroke-width="1.7"/>
<path d="M585.5 276.9 L592 281.2 L585.5 285.5" stroke="#000" stroke-width="1.7"/>
<path d="M454.1 281.2 L485.1 241.5" stroke="#0000ff" stroke-width="1.9"/>
<path d="M524.1 316 L554.1 281.2" stroke="#0000ff" stroke-width="1.9"/>
<path d="M485.1 241.5 L524.1 316" stroke="#ff0000" stroke-width="1.9"/>
</g>
<g fill="#262626">
<text x="479.5" y="237.6" font-size="16">V<tspan font-size="10" dy="2.5">s</tspan></text>
<text x="521" y="330.6" font-size="16">V<tspan font-size="10" dy="3">R</tspan></text>
<text x="554.3" y="298.6" font-size="13.5" textLength="45" lengthAdjust="spacingAndGlyphs">Time (s)</text>
<text transform="translate(442.2 270.8) rotate(-90)" text-anchor="middle" font-size="13.5" textLength="67.5" lengthAdjust="spacingAndGlyphs">Voltage (V)</text>
</g>
<g id="schem">
<polygon points="143,292 214.5,225 352,225 288,292" fill="#9358b8"/>
<polygon points="288,292 352,225 352,248 288,315" fill="#6a35a0"/>
<polygon points="288,315 352,248 352,269 288,335.6" fill="#c8600f"/>
<polygon points="288,335.6 352,269 352,288 288,352.4" fill="#6e6a45"/>
<rect x="143" y="292" width="145" height="23" fill="#7030a0"/>
<rect x="143" y="315" width="145" height="20.6" fill="#e8690f"/>
<rect x="143" y="335.6" width="145" height="16.8" fill="#8b8660"/>
<polygon points="248.3,227.1 192,287.5 192,290.2 248.3,229.6" fill="#a59c1c"/>
<polygon points="154,288.2 216.1,225.2 248.3,227.1 192,287.5" fill="#f6f12c"/>
<polygon points="154,288.2 192,287.5 192,293.4 154,294" fill="#e9df1c"/>
<rect x="160" y="293" width="6.6" height="40" fill="#f3ea1e"/>
<polygon points="199.9,286.5 213,286.5 213,288.7 199.9,288.7" fill="#d6cc18"/>
<polygon points="213,286.5 221.3,278.2 221.3,280.2 213,288.7" fill="#a59c1c"/>
<polygon points="199.9,286.5 208.9,278.2 221.3,278.2 213,286.5" fill="#f6f12c"/>
<polygon points="225.5,286.5 238.6,286.5 238.6,288.7 225.5,288.7" fill="#d6cc18"/>
<polygon points="238.6,286.5 247.6,278.2 247.6,280.2 238.6,288.7" fill="#a59c1c"/>
<polygon points="225.5,286.5 234.4,278.2 247.6,278.2 238.6,286.5" fill="#f6f12c"/>
<polygon points="252.4,286.5 265.5,286.5 265.5,288.7 252.4,288.7" fill="#d6cc18"/>
<polygon points="265.5,286.5 274.5,278.2 274.5,280.2 265.5,288.7" fill="#a59c1c"/>
<polygon points="252.4,286.5 261.4,278.2 274.5,278.2 265.5,286.5" fill="#f6f12c"/>
<line x1="211.6" y1="271.6" x2="296" y2="271.6" stroke="#35185c" stroke-width="1.2" stroke-dasharray="1.3 0.7"/>
<g font-weight="bold" font-size="11.7" text-anchor="middle">
<text x="219" y="313.6" fill="#e6dcf2">BM-SCO</text>
<text x="216" y="331" fill="#f6e2cc">SRO</text>
<text x="219" y="348.3" fill="#e4e2d0">STO (001)</text>
</g>
<g stroke="#1a1a1a" stroke-width="1.35" fill="none">
<path d="M197.9 239 V189 H246"/><path d="M264.4 189 H342 V198.6"/>
<path d="M338.4 195 L342 199.8 L345.6 195" />
<path d="M334.7 204.3 H346"/>
<circle cx="255.2" cy="189" r="9.3" fill="#fff" stroke-width="1.2"/>
<path d="M105.1 211 H118"/><path d="M105.1 206.4 V215.6 M102.9 208.1 V213.9 M100.7 209.8 V212.2" stroke-width="1.2"/>
</g>
<path d="M194 235.6 L197.9 244.4 L201.8 235.6 L197.9 238.2z" fill="#111"/>
<text x="255.2" y="193.7" font-size="13" text-anchor="middle" fill="#222">V</text>
<text x="204" y="244.9" font-size="13.6" font-weight="bold" fill="#111">Au</text>
<polygon points="150.4,223.8 157.6,217 191.8,261.7" fill="#e6dc10"/>
<polygon points="150.4,223.8 153.2,221.2 191.8,261.7" fill="#8a7a10"/>
<path d="M117.8 203.4 H144.5 Q147 203.4 149 205.6 L157.8 215.6 L150.2 224 L142 217 Q140.6 216.4 139 216.4 H118.8 Z" fill="#4d4530" stroke="#111" stroke-width="1.2" stroke-linejoin="round"/>
<polygon points="295,212 301.2,218 260.4,249.3" fill="#e6dc10"/>
<polygon points="299,216 301.2,218 260.4,249.3" fill="#8a7a10"/>
<path d="M332.6 197.6 H309 Q305.5 197.8 303 200.4 L294 210 L301.6 217 L309 210.8 Q311.5 208.8 315 209.2 L334 212.2 Z" fill="#4d4530" stroke="#111" stroke-width="1.2" stroke-linejoin="round"/>
</g>
<g id="curvesB">
<rect x="95.0" y="568.5" width="547.4" height="7.5" fill="#0000ff"/>
<rect x="95.0" y="671.2" width="547.4" height="7.8" fill="#ff0000"/>
<polyline points="95.3,596.0 96.8,593.6 98.3,591.4 99.8,589.5 101.3,587.9 102.8,586.3 104.3,585.0 105.8,583.8 107.3,582.6 108.8,581.6 110.3,580.6 111.8,579.6 113.3,578.7 114.8,577.9 116.3,577.1 117.8,576.2 119.3,575.5 120.8,574.7 122.3,573.9 123.8,573.2 125.3,572.5 126.8,571.8 128.3,571.2 129.8,570.5 131.3,569.9 132.8,569.3 134.3,568.8 135.8,568.2 137.3,567.7 138.8,567.2 140.3,566.7 141.8,566.2 143.3,565.8 144.8,565.3 146.3,564.9 147.8,564.5 149.3,564.2 150.8,563.8 152.3,563.5 153.8,563.2 155.3,562.8 156.8,562.5 158.3,562.2 159.8,561.9 161.3,561.6 162.8,561.4 164.3,561.1 165.8,560.8 167.3,560.6 168.8,560.3 170.3,560.1 171.8,559.8 173.3,559.6 174.8,559.4 176.3,559.1 177.8,558.9 179.3,558.7 180.8,558.5 182.3,558.3 183.8,558.1 185.3,557.9 186.8,557.7 188.3,557.5 189.8,557.3 191.3,557.1 192.8,556.9 194.3,556.8 195.8,556.6 197.3,556.4 198.8,556.2 200.3,556.1 201.8,555.9 203.3,555.7 204.8,555.6 206.3,555.4 207.8,555.2 209.3,555.1 210.8,554.9 212.3,554.7 213.8,554.6 215.3,554.4 216.8,554.2 218.3,554.1 219.8,553.9 221.3,553.8 222.8,553.6 224.3,553.5 225.8,553.3 227.3,553.1 228.8,553.0 230.3,552.9 231.8,552.7 233.3,552.6 234.8,552.4 236.3,552.3 237.8,552.2 239.3,552.1 240.8,552.0 241.5,551.9 489.8,552.1" fill="none" stroke="#000" stroke-width="3.5" stroke-linecap="round" stroke-linejoin="round"/>
<path d="M95.3 509.5 L96.6 504 L99 501.2 L100 500.9 H487.6 L489.6 496.6" fill="none" stroke="#000" stroke-width="2.7" stroke-linecap="round" stroke-linejoin="round"/>
<path d="M145.5 500.5 L148.7 506 L150.9 506 L153.9 500.5zM200.3 500.5 L203.5 506 L205.7 506 L208.7 500.5zM255.0 500.5 L258.2 506 L260.4 506 L263.4 500.5zM341.9 500.5 L345.1 506 L347.3 506 L350.3 500.5zM396.8 500.5 L400.0 506 L402.2 506 L405.2 500.5zM452.0 500.5 L455.2 506 L457.4 506 L460.4 500.5z" fill="#000"/>
<line x1="99" y1="499.5" x2="487" y2="499.5" stroke="#000" stroke-width="1.3" stroke-dasharray="2.8 1.4"/>
</g>
<g id="axesB" stroke="#000" fill="none">
<path d="M95.0 441.3 H642.4 V731.0" stroke-width="0.9"/>
<path d="M95.0 441.3 V731.0 H642.4" stroke-width="1.6"/>
<path d="M88.6 441.3H95.0M88.6 731.00H95.0M91.6 716.09H95.0M91.6 707.36H95.0M91.6 701.17H95.0M91.6 696.37H95.0M91.6 692.45H95.0M91.6 689.13H95.0M91.6 686.26H95.0M91.6 683.73H95.0M88.6 681.46H95.0M91.6 666.55H95.0M91.6 657.82H95.0M91.6 651.63H95.0M91.6 646.83H95.0M91.6 642.91H95.0M91.6 639.59H95.0M91.6 636.72H95.0M91.6 634.19H95.0M88.6 631.92H95.0M91.6 617.01H95.0M91.6 608.28H95.0M91.6 602.09H95.0M91.6 597.29H95.0M91.6 593.37H95.0M91.6 590.05H95.0M91.6 587.18H95.0M91.6 584.65H95.0M88.6 582.38H95.0M91.6 567.47H95.0M91.6 558.74H95.0M91.6 552.55H95.0M91.6 547.75H95.0M91.6 543.83H95.0M91.6 540.51H95.0M91.6 537.64H95.0M91.6 535.11H95.0M88.6 532.84H95.0M91.6 517.93H95.0M91.6 509.20H95.0M91.6 503.01H95.0M91.6 498.21H95.0M91.6 494.29H95.0M91.6 490.97H95.0M91.6 488.10H95.0M91.6 485.57H95.0M88.6 483.30H95.0M91.6 468.39H95.0M91.6 459.66H95.0M91.6 453.47H95.0M91.6 448.67H95.0M91.6 444.75H95.0M91.6 441.43H95.0" stroke-width="1.5"/>
<path d="M95.00 731.0v6M122.37 731.0v3.2M149.74 731.0v6M177.11 731.0v3.2M204.48 731.0v6M231.85 731.0v3.2M259.22 731.0v6M286.59 731.0v3.2M313.96 731.0v6M341.33 731.0v3.2M368.70 731.0v6M396.07 731.0v3.2M423.44 731.0v6M450.81 731.0v3.2M478.18 731.0v6M505.55 731.0v3.2M532.92 731.0v6M560.29 731.0v3.2M587.66 731.0v6M615.03 731.0v3.2M642.40 731.0v6" stroke-width="1.5"/>
</g>
<g id="labelsB" fill="#000" font-size="28" stroke="#000" stroke-width="0.3">
<text transform="translate(74.2 742.5) scale(0.94 1)" text-anchor="end" font-size="30">10</text><text transform="translate(75.6 725.8) scale(0.96 1)" font-size="17.5">1</text>
<text transform="translate(74.2 693.0) scale(0.94 1)" text-anchor="end" font-size="30">10</text><text transform="translate(75.6 676.3) scale(0.96 1)" font-size="17.5">2</text>
<text transform="translate(74.2 643.4) scale(0.94 1)" text-anchor="end" font-size="30">10</text><text transform="translate(75.6 626.7) scale(0.96 1)" font-size="17.5">3</text>
<text transform="translate(74.2 593.9) scale(0.94 1)" text-anchor="end" font-size="30">10</text><text transform="translate(75.6 577.2) scale(0.96 1)" font-size="17.5">4</text>
<text transform="translate(74.2 544.3) scale(0.94 1)" text-anchor="end" font-size="30">10</text><text transform="translate(75.6 527.6) scale(0.96 1)" font-size="17.5">5</text>
<text transform="translate(74.2 494.8) scale(0.94 1)" text-anchor="end" font-size="30">10</text><text transform="translate(75.6 478.1) scale(0.96 1)" font-size="17.5">6</text>
<text transform="translate(95.0 763.7) scale(0.94 1)" text-anchor="middle" font-size="29.8">0</text>
<text transform="translate(150.9 763.7) scale(0.94 1)" text-anchor="middle" font-size="29.8">1k</text>
<text transform="translate(205.7 763.7) scale(0.94 1)" text-anchor="middle" font-size="29.8">2k</text>
<text transform="translate(260.4 763.7) scale(0.94 1)" text-anchor="middle" font-size="29.8">3k</text>
<text transform="translate(315.2 763.7) scale(0.94 1)" text-anchor="middle" font-size="29.8">4k</text>
<text transform="translate(369.9 763.7) scale(0.94 1)" text-anchor="middle" font-size="29.8">5k</text>
<text transform="translate(424.6 763.7) scale(0.94 1)" text-anchor="middle" font-size="29.8">6k</text>
<text transform="translate(479.4 763.7) scale(0.94 1)" text-anchor="middle" font-size="29.8">7k</text>
<text transform="translate(534.1 763.7) scale(0.94 1)" text-anchor="middle" font-size="29.8">8k</text>
<text transform="translate(588.9 763.7) scale(0.94 1)" text-anchor="middle" font-size="29.8">9k</text>
<text transform="translate(643.6 763.7) scale(0.94 1)" text-anchor="middle" font-size="29.8">10k</text>
<text transform="translate(294.17 806.7) scale(0.9890 1)" font-size="29.8" >Time (sec)</text>
<text transform="translate(35.2 677.99) rotate(-90) scale(0.9843 1)" font-size="29.8" >Resistance (<tspan font-family="'Liberation Serif', serif">Ω</tspan>)</text>
</g>
<g id="annB" fill="#000" stroke="#000" stroke-width="0.3">
<text transform="translate(227.08 482.5) scale(0.9594 1)" font-size="25.8" >HRS-with TE-Au(100 <tspan font-family="'Liberation Serif', serif">μ</tspan>m)</text>
<text transform="translate(228.68 541.7) scale(0.9627 1)" font-size="25.8" >LRS-with TE-Au(100 <tspan font-family="'Liberation Serif', serif">μ</tspan>m)</text>
<text transform="translate(359.68 604.7) scale(0.9626 1)" font-size="25.8" >HRS-with Au-tip(0.5 <tspan font-family="'Liberation Serif', serif">μ</tspan>m)</text>
<text transform="translate(363.68 705) scale(0.9621 1)" font-size="25.8" >LRS-with Au-tip(0.5 <tspan font-family="'Liberation Serif', serif">μ</tspan>m)</text>
<text transform="translate(577.98 478.2) scale(1.0039 1)" font-size="34.5" >(b)</text>
</g>
</svg>
</body></html>
